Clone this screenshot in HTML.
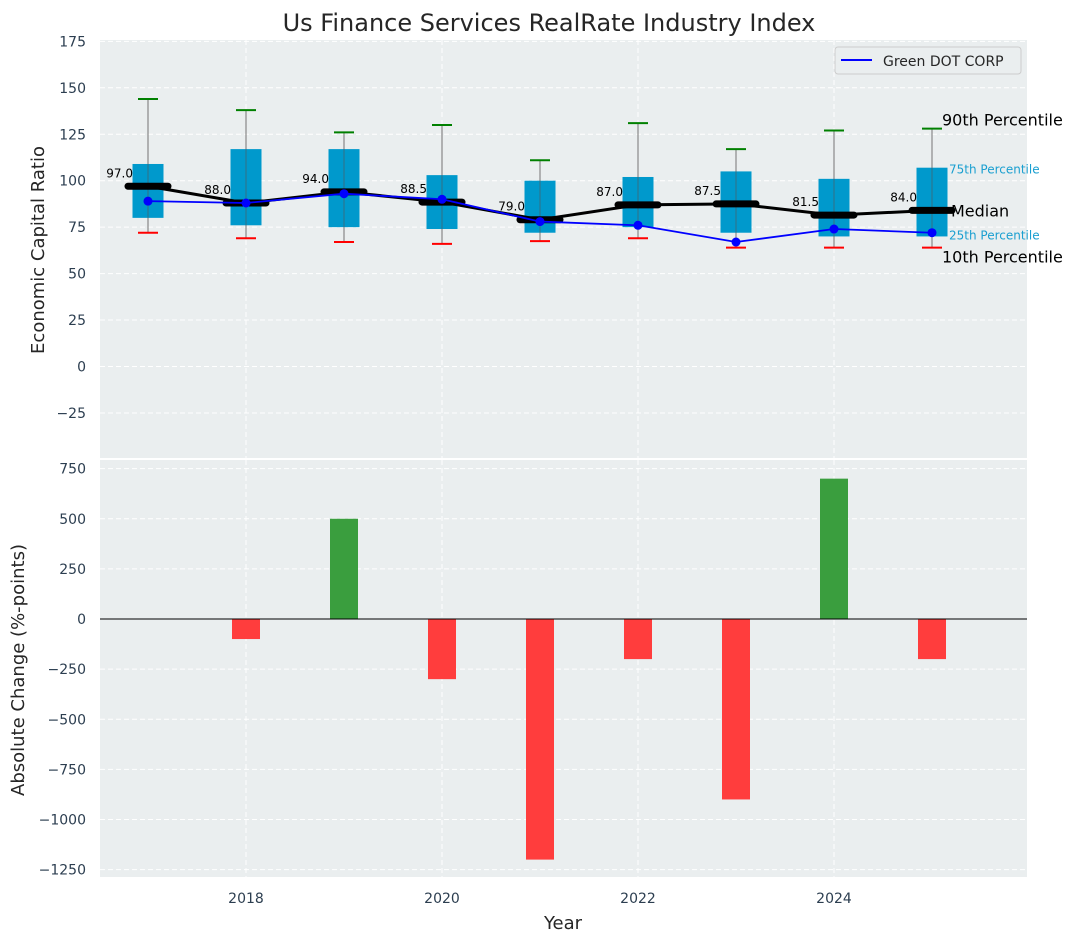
<!DOCTYPE html>
<html><head><meta charset="utf-8"><style>
body{margin:0;background:#fff;font-family:"Liberation Sans","DejaVu Sans",sans-serif}
svg text{font-family:"DejaVu Sans","Liberation Sans",sans-serif}
</style></head><body>
<svg id="c" width="1077" height="942" xmlns="http://www.w3.org/2000/svg"></svg>
<script>
const years=[2017,2018,2019,2020,2021,2022,2023,2024,2025];
const medians=[97,88,94,88.5,79,87,87.5,81.5,84];
const q1=[80,76,75,74,72,75,72,70,70];
const q3=[109,117,117,103,100,102,105,101,107];
const p90=[144,138,126,130,111,131,117,127,128];
const p10=[72,69,67,66,67.5,69,64,64,64];
const company=[89,88,93,90,78,76,67,74,72];
const changes=[0,-100,500,-300,-1200,-200,-900,700,-200];
const topTicks=[175,150,125,100,75,50,25,0,-25];
const botTicks=[750,500,250,0,-250,-500,-750,-1000,-1250];
const xTicks=[2018,2020,2022,2024];

const S=document.getElementById('c');const NS='http://www.w3.org/2000/svg';
function el(t,a,p){const e=document.createElementNS(NS,t);for(const k in a)e.setAttribute(k,a[k]);(p||S).appendChild(e);return e;}
const L=100,R=1027;
const X=v=>148+(v-2017)*98;
const Y1=v=>366.5-v*1.858;
const Y2=v=>619-v*0.2005;
// panels
const p1=el('rect',{x:L,y:40,width:R-L,height:418,fill:'#eaeeef'});

const p2=el('rect',{x:L,y:460,width:R-L,height:417,fill:'#eaeeef'});

const dash={stroke:'#fff','stroke-dasharray':'5,3','stroke-width':1};
topTicks.forEach(t=>{const y=Y1(t);el('line',Object.assign({x1:L,x2:R,y1:y,y2:y},dash));
 const tx=el('text',{x:L-14,y:y+5,'text-anchor':'end','font-size':14,fill:'#2c3e50'});tx.textContent=t<0?'−'+(-t):t;
 });
botTicks.forEach(t=>{const y=Y2(t);el('line',Object.assign({x1:L,x2:R,y1:y,y2:y},dash));
 const tx=el('text',{x:L-14,y:y+5,'text-anchor':'end','font-size':14,fill:'#2c3e50'});tx.textContent=t<0?'−'+(-t):t;
 });
xTicks.forEach(t=>{const x=X(t);el('line',Object.assign({x1:x,x2:x,y1:40,y2:458},dash));el('line',Object.assign({x1:x,x2:x,y1:460,y2:877},dash));
 const tx=el('text',{x:x,y:903,'text-anchor':'middle','font-size':14,fill:'#2c3e50'});tx.textContent=t;
 });
// boxes
years.forEach((yr,i)=>{const x=X(yr);
 el('line',{x1:x,x2:x,y1:Y1(p90[i]),y2:Y1(p10[i]),stroke:'#888','stroke-width':1.2});
 const b=el('rect',{x:x-15.5,y:Y1(q3[i]),width:31,height:Y1(q1[i])-Y1(q3[i]),fill:'#0099cc'});
 
 el('line',{x1:x,x2:x,y1:Y1(q3[i]),y2:Y1(q1[i]),stroke:'#555','stroke-width':1,opacity:0.6});
 el('line',{x1:x-10,x2:x+10,y1:Y1(p90[i]),y2:Y1(p90[i]),stroke:'green','stroke-width':2});
 el('line',{x1:x-10,x2:x+10,y1:Y1(p10[i]),y2:Y1(p10[i]),stroke:'red','stroke-width':2});
});
// median line
el('polyline',{points:years.map((y,i)=>X(y)+','+Y1(medians[i])).join(' '),fill:'none',stroke:'#000','stroke-width':3});
years.forEach((yr,i)=>{const x=X(yr),y=Y1(medians[i]);
 el('line',{x1:x-20,x2:x+20,y1:y,y2:y,stroke:'#000','stroke-width':7,'stroke-linecap':'round'});
 const t=el('text',{x:x-15,y:y-9,'text-anchor':'end','font-size':12,fill:'#000'});t.textContent=medians[i].toFixed(1);
 });
// company line
const cl=el('polyline',{points:years.map((y,i)=>X(y)+','+Y1(company[i])).join(' '),fill:'none',stroke:'blue','stroke-width':1.8});

years.forEach((yr,i)=>{const c=el('circle',{cx:X(yr),cy:Y1(company[i]),r:4.5,fill:'blue'});
 });
// right labels
const lx=X(2025);
[['90th Percentile',Y1(p90[8])-3,16,'#000',lx+10],['75th Percentile',Y1(q3[8])+6,12,'#1a9fd0',lx+17],['Median',Y1(medians[8])+6,16,'#000',lx+19],['25th Percentile',Y1(q1[8])+3,12,'#1a9fd0',lx+17],['10th Percentile',Y1(p10[8])+15,16,'#000',lx+10]].forEach(a=>{
 const t=el('text',{x:a[4],y:a[1],'font-size':a[2],fill:a[3]});t.textContent=a[0];
 });
// cover overflow to the right
el('rect',{x:R,y:140,width:0,height:0,fill:'#fff'});
// bars
years.forEach((yr,i)=>{const v=changes[i];if(!v)return;const x=X(yr);
 const b=el('rect',{x:x-14,y:Math.min(Y2(0),Y2(v)),width:28,height:Math.abs(Y2(v)-Y2(0)),fill:v>0?'#3a9e3e':'#ff3d3d'});
 });
el('line',{x1:L,x2:R,y1:Y2(0),y2:Y2(0),stroke:'#000','stroke-width':1});
// legend
const lg=el('g',{});
el('rect',{x:835,y:47,width:186,height:27,rx:3,fill:'#eaeeef',stroke:'#ccc'},lg);
el('line',{x1:841,x2:872,y1:60,y2:60,stroke:'blue','stroke-width':2},lg);
const lt=el('text',{x:883,y:66,'font-size':14,fill:'#262626'},lg);lt.textContent='Green DOT CORP';
// titles
const tt=el('text',{x:549,y:31,'text-anchor':'middle','font-size':24,fill:'#262626'});tt.textContent='Us Finance Services RealRate Industry Index';

const xt=el('text',{x:563,y:929,'text-anchor':'middle','font-size':18,fill:'#262626'});xt.textContent='Year';

const y1t=el('text',{x:0,y:0,'text-anchor':'middle','font-size':18,fill:'#262626',transform:'translate(44,250) rotate(-90)'});y1t.textContent='Economic Capital Ratio';

const y2t=el('text',{x:0,y:0,'text-anchor':'middle','font-size':18,fill:'#262626',transform:'translate(24,670) rotate(-90)'});y2t.textContent='Absolute Change (%-points)';

</script>
</body></html>
